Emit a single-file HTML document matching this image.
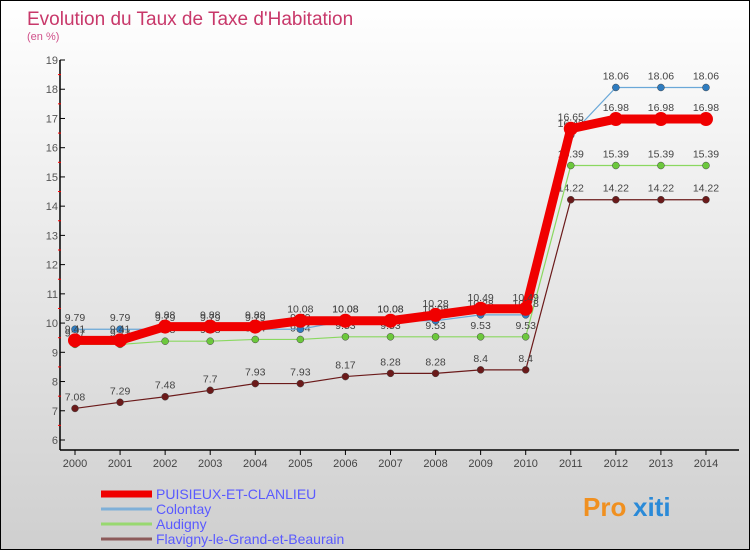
<!DOCTYPE html>
<html><head><meta charset="utf-8"><style>
body{margin:0}
#wrap{width:748px;height:548px;border:1px solid #000;background:linear-gradient(#fff,#cfcfcf);position:relative;font-family:"Liberation Sans",sans-serif}
</style></head><body>
<div id="wrap">
<svg id="svg" width="748" height="548"></svg>
</div>
<script>
const years=["2000","2001","2002","2003","2004","2005","2006","2007","2008","2009","2010","2011","2012","2013","2014"];
const puisieux=[9.41,9.41,9.88,9.88,9.88,10.08,10.08,10.08,10.28,10.49,10.49,16.65,16.98,16.98,16.98];
const colontay=[9.79,9.79,9.79,9.79,9.79,9.79,10.08,10.08,10.08,10.28,10.28,16.43,18.06,18.06,18.06];
const audigny=[9.27,9.27,9.38,9.38,9.44,9.44,9.53,9.53,9.53,9.53,9.53,15.39,15.39,15.39,15.39];
const flavigny=[7.08,7.29,7.48,7.7,7.93,7.93,8.17,8.28,8.28,8.4,8.4,14.22,14.22,14.22,14.22];
const yTicks=[6,7,8,9,10,11,12,13,14,15,16,17,18,19];
const names=["PUISIEUX-ET-CLANLIEU","Colontay","Audigny","Flavigny-le-Grand-et-Beaurain"];
const NS="http://www.w3.org/2000/svg",svg=document.getElementById('svg');
const X=i=>74+i*45.07, Y=v=>439-(v-6)*(380/13);
function el(t,a,txt){const e=document.createElementNS(NS,t);for(const k in a)e.setAttribute(k,a[k]);if(txt!==undefined)e.textContent=txt;svg.appendChild(e);return e;}
let e;
e=el('text',{x:26,y:24,'font-size':19,fill:'#c8386a'},"Evolution du Taux de Taxe d'Habitation");

e=el('text',{x:26,y:39,'font-size':11,fill:'#d0508a'},"(en %)");

e=el('line',{x1:59,y1:59,x2:59,y2:449,stroke:'#000','stroke-width':1.5});

e=el('line',{x1:59,y1:449,x2:738,y2:449,stroke:'#000','stroke-width':1.5});

yTicks.forEach(v=>{
 e=el('line',{x1:59,y1:Y(v),x2:64,y2:Y(v),stroke:'#000'});
 
 if(v<19){e=el('line',{x1:57,y1:Y(v+0.5),x2:60,y2:Y(v+0.5),stroke:'#f00'});
 }
 e=el('text',{x:57,y:Y(v)+4,'font-size':11,fill:'#555','text-anchor':'end'},v);
 
});
years.forEach((y,i)=>{
 e=el('line',{x1:X(i),y1:449,x2:X(i),y2:454,stroke:'#000'});
 
 e=el('text',{x:X(i),y:466,'font-size':11,fill:'#444','text-anchor':'middle'},y);
 
});
const series=[[flavigny,'#6b1a1a','#6b1a1a',1.2,3.5,'flavigny'],[audigny,'#8ad860','#6cc83c',1.2,3.5,'audigny'],[colontay,'#6aa8d8','#2e7cc0',1.2,3.5,'colontay'],[puisieux,'#f00000','#f00000',9,7,'puisieux']];
series.forEach(([d,c,dc,w,r,n])=>{
 e=el('polyline',{points:d.map((v,i)=>X(i)+','+Y(v)).join(' '),fill:'none',stroke:c,'stroke-width':w});
 
 d.forEach((v,i)=>{
  e=el('circle',{cx:X(i),cy:Y(v),r:r,fill:dc,stroke:n=='puisieux'?'none':'#444','stroke-width':0.5});
  
  e=el('text',{x:X(i),y:Y(v)-(n=='audigny'||n=='colontay'?-14:8)+(n=='colontay'?-22:0),'font-size':10.5,fill:'#444','text-anchor':'middle'},v);
  if(n=='audigny')e.setAttribute('y',Y(v)-8);
  
 });
});
const lc=['#f00000','#7fb0d8','#98d870','#8c5a5a'],lw=[7,3,3,3],ly=[493,508,523,538];
names.forEach((n,i)=>{
 e=el('line',{x1:100,y1:ly[i],x2:151,y2:ly[i],stroke:lc[i],'stroke-width':lw[i]});
 
 e=el('text',{x:155,y:ly[i]+5,'font-size':14,fill:'#5a5aff'},n);
 
});
e=el('text',{x:582,y:515,'font-size':26,'font-weight':'bold',fill:'#f09020'},"Pro");

e=el('text',{x:632,y:515,'font-size':26,'font-weight':'bold',fill:'#2a8ad8'},"xiti");

</script>
</body></html>
